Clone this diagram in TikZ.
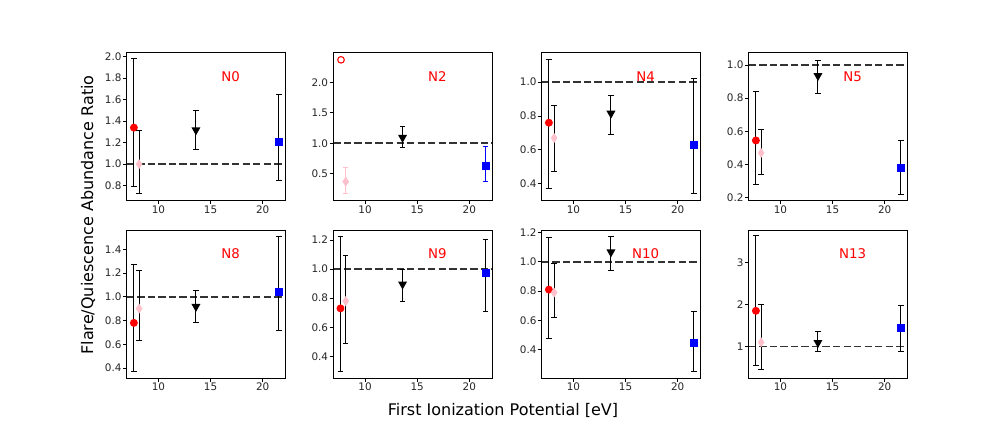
\documentclass[tikz,border=0pt]{standalone}
\usepackage{fontspec}
\setmainfont{DejaVu Sans}
\definecolor{pinkc}{HTML}{FFC0CB}
\definecolor{ticktext}{HTML}{262626}
\pgfkeys{/pgf/number format/assume math mode=true}
\tikzset{
  frame/.style={line width=0.6pt},
  errbar/.style={line width=0.75pt},
  unity/.style={line width=1.2pt, black!80, dash pattern=on 5.5 off 2.4},
  ticklbl/.style={font=\fontsize{7.8}{8}\selectfont, text=ticktext, inner sep=1pt},
  ionlbl/.style={font=\fontsize{10}{12}\selectfont, text=red},
}
% panel geometry in pixels: left, top, ylow, yhigh
\newcommand\setpanel[4]{\def\pnlx{#1}\def\pnly{#2}\def\ylo{#3}\def\yhi{#4}}
\newcommand\Pt[2]{({\pnlx+(#1-6.96)*10.43},{\pnly+148-(#2-\ylo)*148/(\yhi-\ylo)})}
\newcommand\ebar[4][black]{\draw[errbar,#1] \Pt{#2}{#3} -- \Pt{#2}{#4};
  \draw[errbar,#1] \Pt{#2}{#3} ++(-2.7,0) -- ++(5.4,0);
  \draw[errbar,#1] \Pt{#2}{#4} ++(-2.7,0) -- ++(5.4,0);}
\newcommand\redpt[1]{\fill[red] \Pt{7.65}{#1} circle[radius=4];}
\newcommand\pinkpt[1]{\fill[pinkc] \Pt{8.15}{#1} ++(0,-5) -- ++(3.3,5) -- ++(-3.3,5) -- ++(-3.3,-5) -- cycle;}
\newcommand\tript[1]{\fill \Pt{13.6}{#1} ++(-4.5,-3.5) -- ++(9,0) -- ++(-4.5,8) -- cycle;}
\newcommand\bluept[1]{\fill[blue] \Pt{21.56}{#1} ++(-4,-4) rectangle ++(8,8);}
% frame, ticks, unity line and label
\newcommand\axes[3]{%
  \draw[unity] \Pt{6.96}{1} -- \Pt{22.2}{1};
  \draw[frame] (\pnlx,\pnly) rectangle ++(159,148);
  \foreach \t in {10,15,20} {
    \draw[frame] \Pt{\t}{\ylo} -- ++(0,3.5) node[ticklbl, below] {\t};
  }
  \foreach \t in {#2} {
    \draw[frame] \Pt{6.96}{\t} -- ++(-3.5,0) node[ticklbl, left] {#3};
  }
  \node[ionlbl] at (\pnlx+104,\pnly+24) {#1};
}

\begin{document}
\begin{tikzpicture}[x=0.75pt, y=-0.75pt]
  \useasboundingbox[fill=white] (0,0) rectangle (1008,432);

  % N0
  \setpanel{126.7}{52.7}{0.66}{2.037}
  \axes{N0}{0.8,1.0,...,2.01}{\pgfmathprintnumber[fixed,precision=1,fixed zerofill]{\t}}
  \ebar{7.65}{0.79}{1.98}\redpt{1.34}
  \ebar{8.15}{0.73}{1.31}\pinkpt{1.0}
  \ebar{13.6}{1.14}{1.50}\tript{1.31}
  \ebar{21.56}{0.85}{1.65}\bluept{1.21}

  % N2
  \setpanel{333.3}{52.7}{0.057}{2.487}
  \axes{N2}{0.5,1.0,1.5,2.0}{\pgfmathprintnumber[fixed,precision=1,fixed zerofill]{\t}}
  \draw[red, line width=0.8pt] \Pt{7.7}{2.37} circle[radius=3.3];
  \ebar[pinkc]{8.15}{0.17}{0.60}\pinkpt{0.37}
  \ebar{13.6}{0.93}{1.27}\tript{1.08}
  \ebar[blue]{21.56}{0.38}{0.95}\bluept{0.62}

  % N4
  \setpanel{541.7}{52.7}{0.30}{1.173}
  \axes{N4}{0.4,0.6,0.8,1.0}{\pgfmathprintnumber[fixed,precision=1,fixed zerofill]{\t}}
  \ebar{7.65}{0.37}{1.13}\redpt{0.76}
  \ebar{8.15}{0.47}{0.86}\pinkpt{0.67}
  \ebar{13.6}{0.69}{0.92}\tript{0.81}
  \ebar{21.56}{0.34}{1.02}\bluept{0.63}

  % N5
  \setpanel{748.7}{52.7}{0.182}{1.074}
  \axes{N5}{0.2,0.4,0.6,0.8,1.0}{\pgfmathprintnumber[fixed,precision=1,fixed zerofill]{\t}}
  \ebar{7.65}{0.28}{0.84}\redpt{0.545}
  \ebar{8.15}{0.34}{0.61}\pinkpt{0.47}
  \ebar{13.6}{0.83}{1.03}\tript{0.93}
  \ebar{21.56}{0.22}{0.545}\bluept{0.38}

  % N8
  \setpanel{126.7}{230}{0.316}{1.562}
  \axes{N8}{0.4,0.6,...,1.41}{\pgfmathprintnumber[fixed,precision=1,fixed zerofill]{\t}}
  \ebar{7.65}{0.37}{1.27}\redpt{0.78}
  \ebar{8.15}{0.63}{1.22}\pinkpt{0.90}
  \ebar{13.6}{0.78}{1.05}\tript{0.91}
  \ebar{21.56}{0.72}{1.51}\bluept{1.04}

  % N9
  \setpanel{333.3}{230}{0.252}{1.268}
  \axes{N9}{0.4,0.6,...,1.21}{\pgfmathprintnumber[fixed,precision=1,fixed zerofill]{\t}}
  \ebar{7.65}{0.30}{1.22}\redpt{0.73}
  \ebar{8.15}{0.49}{1.09}\pinkpt{0.78}
  \ebar{13.6}{0.78}{1.0}\tript{0.89}
  \ebar{21.56}{0.71}{1.20}\bluept{0.975}

  % N10
  \setpanel{541.7}{230}{0.208}{1.216}
  \axes{N10}{0.4,0.6,...,1.21}{\pgfmathprintnumber[fixed,precision=1,fixed zerofill]{\t}}
  \ebar{7.65}{0.48}{1.165}\redpt{0.81}
  \ebar{8.15}{0.62}{0.99}\pinkpt{0.79}
  \ebar{13.6}{0.94}{1.17}\tript{1.06}
  \ebar{21.56}{0.255}{0.66}\bluept{0.445}

  % N13
  \setpanel{748.7}{230}{0.249}{3.775}
  \axes{N13}{1,2,3}{\t}
  \ebar{7.65}{0.55}{3.65}\redpt{1.85}
  \ebar{8.15}{0.44}{2.0}\pinkpt{1.1}
  \ebar{13.6}{0.88}{1.35}\tript{1.07}
  \ebar{21.56}{0.88}{1.97}\bluept{1.45}

  % axis titles
  \node[font=\fontsize{12}{14}\selectfont, rotate=90] (ytitle) at (88,215) {Flare/Quiescence Abundance Ratio};
  \node[font=\fontsize{12}{14}\selectfont] (xtitle) at (503,410) {First Ionization Potential [eV]};
\end{tikzpicture}
\end{document}
